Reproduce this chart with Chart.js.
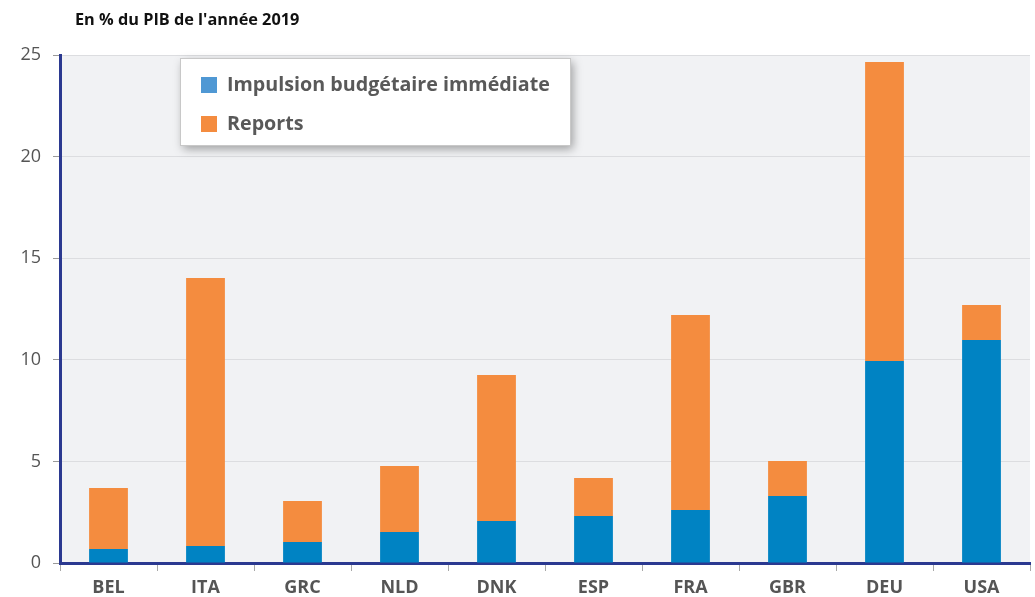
<!DOCTYPE html>
<html>
<head>
<meta charset="utf-8">
<script src="https://cdn.jsdelivr.net/npm/chart.js@4"></script>
<style>
  html, body { margin: 0; padding: 0; background: #fff; }
  #wrap { width: 1035px; height: 597px; }
</style>
</head>
<body>
<div id="wrap"><canvas id="c" width="1035" height="597"></canvas></div>
<script>
"use strict";

// données
const pays = ['BEL', 'ITA', 'GRC', 'NLD', 'DNK', 'ESP', 'FRA', 'GBR', 'DEU', 'USA'];
const impulsion = [0.69, 0.84, 1.03, 1.53, 2.07, 2.31, 2.61, 3.30, 9.94, 10.97];
const reports = [3.00, 13.19, 2.02, 3.24, 7.18, 1.87, 9.59, 1.72, 14.72, 1.73];
const yTicks = [0, 5, 10, 15, 20, 25];
const titre = "En % du PIB de l'année 2019";

const FONT = "'Open Sans', 'Noto Sans', sans-serif";
const BLEU = '#0083c3';
const ORANGE = '#f48c3f';
const AXE = '#2b3990';

// fond gris, titre et légende encadrée
const decor = {
    id: 'decor',
    beforeDraw: (chart) => {
        const { ctx, chartArea: a } = chart;
        ctx.save();
        ctx.fillStyle = '#f1f2f4';
        ctx.fillRect(a.left, a.top, a.right - a.left, a.bottom - a.top);
        ctx.fillStyle = '#111';
        ctx.font = 'bold 16.3px ' + FONT;
        ctx.textBaseline = 'middle';
        ctx.fillText(titre, 75, 20);
        ctx.restore();
    },
    afterDraw: (chart) => {
        const { ctx } = chart;
        ctx.save();
        ctx.shadowColor = 'rgba(0,0,0,0.35)';
        ctx.shadowBlur = 9;
        ctx.shadowOffsetX = 3;
        ctx.shadowOffsetY = 4;
        ctx.fillStyle = '#fff';
        ctx.fillRect(180, 58, 390, 87);
        ctx.restore();
        ctx.save();
        ctx.strokeStyle = '#c8c8c8';
        ctx.lineWidth = 1;
        ctx.strokeRect(180.5, 58.5, 390, 87);
        const couleurs = ['#4f98d4', ORANGE];
        chart.data.datasets.forEach((ds, i) => {
            const y = 85 + i * 39;
            ctx.fillStyle = couleurs[i];
            ctx.fillRect(201, y - 8, 16, 16);
            ctx.fillStyle = '#595959';
            ctx.font = 'bold 19.7px ' + FONT;
            ctx.textBaseline = 'middle';
            ctx.fillText(ds.label, 227, y);
        });
        ctx.restore();
    }
};

new Chart(document.getElementById('c'), {
    type: 'bar',
    data: {
        labels: pays,
        datasets: [
            { label: 'Impulsion budgétaire immédiate', data: impulsion, backgroundColor: BLEU },
            { label: 'Reports', data: reports, backgroundColor: ORANGE }
        ]
    },
    options: {
        responsive: false,
        animation: false,
        layout: { padding: { top: 55, right: 5, left: 0, bottom: 0 } },
        datasets: { bar: { barPercentage: 0.4, categoryPercentage: 1 } },
        plugins: { legend: { display: false }, tooltip: { enabled: false } },
        scales: {
            x: {
                stacked: true,
                afterFit: (s) => { s.height = 34; },
                border: { color: AXE, width: 3 },
                grid: { drawOnChartArea: false, offset: true, tickLength: 8, color: '#a8a8a8' },
                ticks: { color: '#555', font: { family: FONT, size: 18, weight: 'bold' }, padding: 6 }
            },
            y: {
                stacked: true,
                min: 0,
                max: 25,
                afterFit: (s) => { s.width = 60; },
                afterBuildTicks: (s) => { s.ticks = yTicks.map(v => ({ value: v })); },
                border: { color: AXE, width: 3 },
                grid: { color: '#dcdde0', tickLength: 7, tickColor: '#9a9a9a' },
                ticks: { color: '#555', font: { family: FONT, size: 18 }, padding: 12 }
            }
        }
    },
    plugins: [decor]
});
</script>
</body>
</html>
